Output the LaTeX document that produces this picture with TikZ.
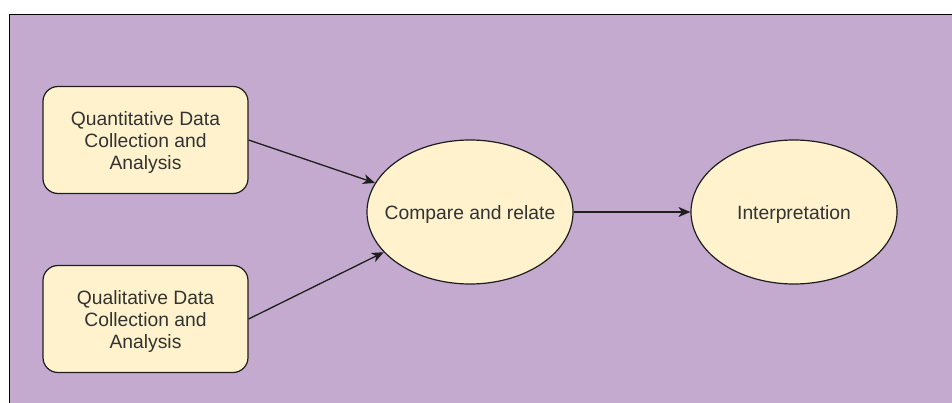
\documentclass[tikz,border=0pt]{standalone}
\usepackage{fontspec}
\setmainfont{Liberation Sans}
\usetikzlibrary{arrows.meta,shapes.geometric}

\definecolor{canvasbg}{RGB}{195,170,206}
\definecolor{nodefill}{RGB}{255,242,204}
\definecolor{labeltext}{RGB}{51,51,51}
\definecolor{edgeline}{RGB}{30,30,30}

\tikzset{
  labelfont/.style={text=labeltext, font=\fontsize{19.3}{22.3}\selectfont, align=center},
  stagebox/.style={draw=edgeline, line width=1.2pt, fill=nodefill, rounded corners=15pt,
    minimum width=205pt, minimum height=107pt, inner sep=0pt},
  stageoval/.style={ellipse, draw=edgeline, line width=1.2pt, fill=nodefill,
    minimum width=206pt, minimum height=144pt, inner sep=0pt},
  innertext/.style={inner sep=0pt, labelfont},
  flow/.style={draw=edgeline, line width=1.3pt,
    -{Stealth[length=12pt,width=10pt,inset=3.5pt]}}
}

\begin{document}
\begin{tikzpicture}[x=1pt,y=-1pt]
  \useasboundingbox (0,0) rectangle (952,403);
  % canvas background with its top and left frame lines
  \fill[white] (0,0) rectangle (952,403);
  \fill[canvasbg] (9.5,14.5) rectangle (952,403);
  \draw[black, line width=1.4pt] (9.5,403) -- (9.5,14.5) -- (952,14.5);

  % data collection stages
  \node[stagebox] (quant) at (145.5,140) {};
  \node[innertext] (quanttxt) at ([yshift=-2.5pt]quant.center) {Quantitative Data\\Collection and\\Analysis};
  \node[stagebox] (qual)  at (145.5,319) {};
  \node[innertext] (qualtxt) at ([yshift=-2.5pt]qual.center) {Qualitative Data\\Collection and\\Analysis};

  % merging and interpretation (the ellipses are sized independently of their text)
  \node[stageoval] (cmp)    at (470,212) {};
  \node[innertext] (cmptxt) at ([yshift=-2.5pt]cmp.center) {Compare and relate};
  \node[stageoval] (interp) at (794,212) {};
  \node[innertext] (inttxt) at ([yshift=-2.5pt]interp.center) {Interpretation};

  % connectors
  \draw[flow] (quant.east) -- (cmp.163.3);
  \draw[flow] (qual.east)  -- (cmp.205.7);
  \draw[flow] (cmp.east)   -- (interp.west);
\end{tikzpicture}
\end{document}
